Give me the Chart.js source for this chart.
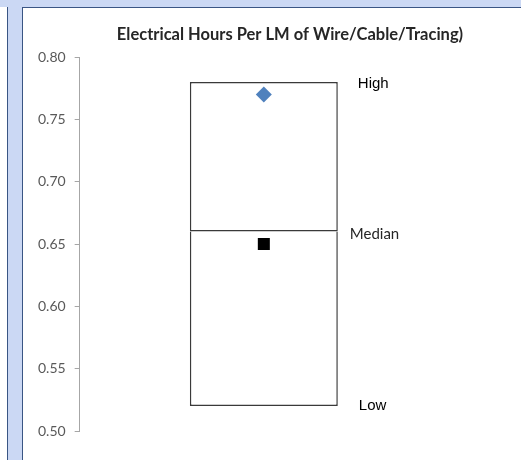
<!DOCTYPE html>
<html><head><meta charset="utf-8">
<script src="https://cdn.jsdelivr.net/npm/chart.js@4/dist/chart.umd.min.js"></script>
<style>
html,body{margin:0;padding:0;background:#fff;}
body{width:521px;height:460px;overflow:hidden;position:relative;}
.band-top{position:absolute;left:0;top:0;width:521px;height:7px;background:#cbd8f4;}
.band-left{position:absolute;left:8px;top:0;width:14px;height:460px;background:#cbd8f4;}
.line{position:absolute;background:#3a5584;}
#wrap{position:absolute;left:23px;top:8px;width:534px;height:452px;}
</style></head><body>
<div class="band-top"></div><div class="band-left"></div>
<div class="line" style="left:7px;top:7px;width:1px;height:453px"></div>
<div class="line" style="left:22px;top:7px;width:1px;height:453px"></div>
<div class="line" style="left:22px;top:7px;width:499px;height:1px"></div>
<div id="wrap"><canvas id="c" width="534" height="452"></canvas></div>
<script>
const TITLE = 'Electrical Hours Per LM of Wire/Cable/Tracing)';
const categories = ['Electrical'];
const lowValues = [0.52];
const medianValues = [0.66];
const highValues = [0.78];
const actualValues = [0.77];
const comparisonValues = [0.65];
const yMin = 0.50, yMax = 0.80, yStep = 0.05;
const boxLabels = ['High', 'Median', 'Low'];

const titlePlugin = {
  id: 'sheetTitle',
  afterDraw(chart) {
    const ctx = chart.ctx;
    ctx.save();
    ctx.font = 'bold 16.5px Lato';
    ctx.fillStyle = '#262626';
    ctx.textAlign = 'center';
    ctx.textBaseline = 'middle';
    ctx.fillText(TITLE, chart.width / 2, 27);
    ctx.restore();
  }
};

const boxLabelPlugin = {
  id: 'boxLabels',
  afterDatasetsDraw(chart) {
    const ctx = chart.ctx;
    const y = chart.scales.y;
    const bar = chart.getDatasetMeta(1).data[0];
    const right = bar.x + bar.width / 2;
    const vals = [highValues[0], medianValues[0], lowValues[0]];
    const styles = [
      {font: '15px "Liberation Sans"', dx: 20, dy: 2},
      {font: '15px Lato', dx: 12, dy: 3},
      {font: '15px "Liberation Sans"', dx: 21, dy: 0}
    ];
    ctx.save();
    ctx.textAlign = 'left';
    ctx.textBaseline = 'middle';
    boxLabels.forEach((t, i) => {
      ctx.font = styles[i].font;
      ctx.fillStyle = i === 1 ? '#262626' : '#000';
      ctx.fillText(t, right + styles[i].dx, y.getPixelForValue(vals[i]) + styles[i].dy);
    });
    ctx.restore();
  }
};

new Chart(document.getElementById('c'), {
  type: 'bar',
  data: {
    labels: categories,
    datasets: [
      {
        type: 'line', label: 'Actual', data: actualValues, showLine: false,
        pointStyle: 'rectRot', pointRadius: 8, pointHoverRadius: 8,
        backgroundColor: '#4f81bd', borderColor: '#4f81bd', borderWidth: 0, order: 0
      },
      {
        type: 'bar', label: 'Median–High',
        data: categories.map((c, i) => [medianValues[i], highValues[i]]),
        backgroundColor: '#ffffff', borderColor: '#3a3a3a', borderWidth: 1.5,
        borderSkipped: false, barPercentage: 0.4016, categoryPercentage: 1, order: 2
      },
      {
        type: 'bar', label: 'Low–Median',
        data: categories.map((c, i) => [lowValues[i], medianValues[i]]),
        backgroundColor: '#ffffff', borderColor: '#3a3a3a', borderWidth: 1.5,
        borderSkipped: 'top', barPercentage: 0.4016, categoryPercentage: 1, order: 2
      },
      {
        type: 'line', label: 'Comparison', data: comparisonValues, showLine: false,
        pointStyle: 'rect', pointRadius: 8.5, pointHoverRadius: 8.5,
        backgroundColor: '#000000', borderColor: '#000000', borderWidth: 0, order: 0
      }
    ]
  },
  options: {
    responsive: false,
    animation: false,
    devicePixelRatio: 1,
    layout: {padding: {left: 6, right: 109, top: 49, bottom: 29}},
    plugins: {legend: {display: false}, tooltip: {enabled: false}, title: {display: false}},
    scales: {
      x: {display: false, stacked: true},
      y: {
        min: yMin, max: yMax, stacked: false,
        ticks: {
          stepSize: yStep, color: '#595959', padding: 9,
          font: {family: 'Lato', size: 14},
          callback: v => Number(v).toFixed(2)
        },
        grid: {display: true, drawOnChartArea: false, drawTicks: true, tickLength: 5, color: '#a6a6a6'},
        border: {display: true, color: '#a6a6a6'}
      }
    }
  },
  plugins: [titlePlugin, boxLabelPlugin]
});
</script>
</body></html>
